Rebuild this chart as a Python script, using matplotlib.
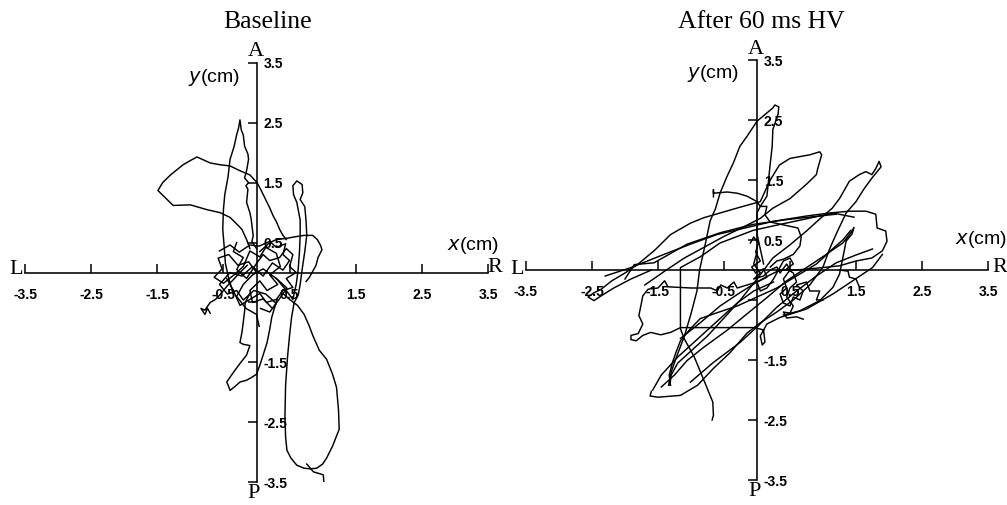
import matplotlib
matplotlib.use("Agg")
import matplotlib.pyplot as plt
import numpy as np

W, H = 1007, 505

# ---------------- data (cm) ----------------
tick_vals = [-3.5, -2.5, -1.5, -0.5, 0.5, 1.5, 2.5, 3.5]
x_tick_labels = ['-3.5', '-2.5', '-1.5', '-0.5', '0.5', '1.5', '2.5', '3.5']
y_tick_labels = ['-3.5', '-2.5', '-1.5', '', '0.5', '1.5', '2.5', '3.5']
titles = ['Baseline', 'After 60 ms HV']

# Baseline trajectories (x, y) in cm
base_loop_upper = [(0.45,0.55),(0.4,0.62),(0.35,0.72),(0.3,0.85),(0.25,0.95),(0.2,1.08),(0.16,1.17),(0.08,1.35),
                   (0.01,1.5),(-0.1,1.63),(-0.25,1.7),(-0.4,1.78),(-0.55,1.8),(-0.7,1.83),(-0.9,1.93),(-1.0,1.87),
                   (-1.11,1.8),(-1.3,1.63),(-1.42,1.5),(-1.49,1.37),(-1.38,1.25),(-1.26,1.12),(-1.0,1.13),(-0.75,1.05),
                   (-0.55,1.0),(-0.4,0.92),(-0.29,0.8),(-0.22,0.72),(-0.15,0.55),(-0.1,0.4)]
base_narrow = [(-0.35,-0.35),(-0.42,-0.1),(-0.47,0.15),(-0.49,0.45),(-0.51,0.72),(-0.5,1.05),(-0.48,1.3),(-0.43,1.6),
               (-0.4,1.89),(-0.34,2.1),(-0.3,2.3),(-0.27,2.42),(-0.25,2.55),(-0.23,2.38),(-0.2,2.3),(-0.18,2.11),
               (-0.13,1.98),(-0.12,1.89),(-0.15,1.7),(-0.18,1.58),(-0.12,1.5),(-0.16,1.45),(-0.13,1.39),(-0.15,1.17),
               (-0.1,1.0),(-0.08,0.89),(-0.05,0.61),(-0.07,0.52),(0.0,0.4)]
base_thin_bottom = [(0.3,-0.1),(0.45,-0.3),(0.55,-0.45),(0.6,-0.2),(0.63,0.05),(0.65,0.35),(0.66,0.62),(0.66,0.88),
                    (0.63,1.05),(0.61,1.17),(0.56,1.3),(0.55,1.45),(0.61,1.53),(0.69,1.47),(0.7,1.33),(0.66,1.22),
                    (0.73,1.1),(0.75,0.85),(0.76,0.62),(0.73,0.35),(0.69,0.05),(0.66,-0.2),(0.63,-0.38),(0.57,-0.5),
                    (0.53,-0.75),(0.5,-1.05),(0.47,-1.4),(0.44,-1.88),(0.43,-2.4),(0.44,-2.75),(0.46,-2.97),(0.52,-3.1),
                    (0.61,-3.22),(0.72,-3.27),(0.81,-3.28),(0.91,-3.27),(1.0,-3.2),(1.06,-3.1),(1.15,-2.9),(1.25,-2.62),
                    (1.24,-2.3),(1.21,-1.92),(1.15,-1.7),(1.06,-1.45),(0.95,-1.3),(0.85,-1.05),(0.8,-0.9),(0.72,-0.7),
                    (0.62,-0.55),(0.5,-0.45),(0.4,-0.35)]
base_hook = [(0.76,-3.2),(0.86,-3.33),(0.95,-3.36),(1.01,-3.38),(1.02,-3.53)]
base_tongue = [(0.31,-0.45),(0.27,-0.6),(0.23,-0.75),(0.2,-0.95),(0.16,-1.17),(0.1,-1.38),(0.05,-1.55),(0.0,-1.7),
               (-0.07,-1.75),(-0.15,-1.8),(-0.25,-1.83),(-0.32,-1.9),(-0.4,-1.97),(-0.43,-1.88),(-0.45,-1.83),
               (-0.35,-1.67),(-0.25,-1.52),(-0.15,-1.38),(-0.1,-1.22),(-0.2,-1.2),(-0.25,-1.17),(-0.22,-1.0),
               (-0.2,-0.83),(-0.18,-0.65),(-0.17,-0.5),(-0.1,-0.35)]
base_hash = [(-0.14,0.12),(-0.25,0.0),(-0.35,-0.12),(-0.44,-0.22),(-0.55,-0.37),(-0.62,-0.45),(-0.7,-0.5),
             (-0.75,-0.58),(-0.78,-0.63),(-0.84,-0.6),(-0.78,-0.7),(-0.74,-0.6),(-0.7,-0.68)]
base_right_blob = [(0.05,0.35),(0.2,0.5),(0.3,0.55),(0.45,0.57),(0.6,0.6),(0.72,0.62),(0.85,0.62),(0.92,0.55),
                   (0.97,0.45),(0.99,0.38),(0.93,0.25),(0.9,0.12),(0.85,0.02),(0.8,-0.08),(0.75,-0.15)]
base_center_a = [(0.0,0.0),(-0.12,0.18),(-0.28,0.12),(-0.42,0.3),(-0.58,0.24),(-0.52,0.06),(-0.64,-0.08),(-0.5,-0.18),
                 (-0.34,-0.04),(-0.2,0.1),(-0.1,0.36),(0.05,0.26),(0.14,0.42),(0.3,0.32),(0.36,0.1),(0.2,-0.04),
                 (0.32,-0.2),(0.16,-0.3),(0.05,-0.14),(-0.1,-0.3),(-0.06,-0.5),(0.1,-0.44),(0.24,-0.6),(0.36,-0.42),
                 (0.46,-0.26),(0.3,-0.1),(0.1,0.06),(-0.06,-0.04),(-0.2,-0.2),(-0.3,-0.4),(-0.16,-0.6),(0.0,-0.7),(0.04,-0.9)]
base_center_b = [(-0.56,0.36),(-0.4,0.46),(-0.26,0.34),(-0.1,0.46),(0.04,0.44),(0.2,0.52),(0.3,0.42),(0.44,0.48),
                 (0.4,0.3),(0.5,0.2),(0.4,0.04),(0.24,0.16),(0.1,-0.06),(-0.06,0.1),(-0.22,-0.06),(-0.4,0.0),
                 (-0.56,-0.2),(-0.44,-0.36),(-0.3,-0.3),(-0.2,-0.46),(-0.04,-0.3),(0.14,-0.36),(0.3,-0.52),(0.2,-0.66),(0.06,-0.6)]
base_center_c = [(-0.3,0.5),(-0.35,0.35),(-0.2,0.25),(-0.3,0.05),(-0.15,-0.1),(0.0,0.15),(0.1,0.3),(0.2,0.2),
                 (0.35,0.25),(0.45,0.4),(0.55,0.3),(0.5,0.1),(0.6,0.0),(0.45,-0.1),(0.55,-0.25),(0.4,-0.3),
                 (0.3,-0.45),(0.15,-0.5),(0.05,-0.35),(-0.1,-0.45),(-0.25,-0.55),(-0.35,-0.3),(-0.45,-0.1)]

# After-HV trajectories (x, y) in cm
hv_tall = [(0.1,0.1),(0.05,0.35),(0.0,0.6),(0.0,0.95),(0.05,1.06),(0.15,1.23),(0.17,1.44),(0.2,1.77),(0.23,2.06),
           (0.24,2.34),(0.32,2.6),(0.33,2.72),(0.27,2.75),(0.24,2.7),(0.0,2.48),(-0.15,2.23),(-0.26,2.06),
           (-0.36,1.78),(-0.45,1.57),(-0.56,1.28),(-0.63,1.02),(-0.71,0.82),(-0.78,0.45),(-0.83,0.2),(-0.87,0.0),
           (-0.91,-0.35),(-1.0,-0.73),(-1.1,-1.1),(-1.22,-1.45),(-1.3,-1.7),(-1.34,-1.92)]
hv_vertical = [(-0.68,-2.5),(-0.66,-2.42),(-0.67,-2.2),(-0.8,-1.85),(-0.95,-1.45),(-1.1,-1.15),(-1.16,-0.98),
               (-1.16,-0.5),(-1.16,0.04),(-0.86,0.22),(-0.56,0.45),(-0.06,0.66),(0.35,0.76),(0.95,0.9),(1.2,0.93)]
hv_tail_loop = [(-1.6,0.0),(-1.91,-0.15),(-2.17,-0.3),(-2.36,-0.43),(-2.47,-0.51),(-2.56,-0.45),(-2.47,-0.38),
                (-2.36,-0.32),(-2.2,-0.18),(-2.0,-0.05),(-1.8,0.1),(-1.55,0.33),(-1.31,0.59),(-1.01,0.78),(-0.81,0.87),
                (-0.31,1.03),(0.05,1.14),(0.2,1.5),(0.34,1.75),(0.5,1.86),(0.8,1.92),(0.95,1.97),(0.98,1.92),
                (0.92,1.69),(0.9,1.59),(0.75,1.43),(0.5,1.19),(0.24,1.03),(0.05,0.86),(-0.2,0.72),(-0.5,0.56),
                (-0.8,0.38),(-1.1,0.2),(-1.4,-0.02),(-1.7,-0.25)]
hv_left_box = [(0.0,-0.2),(-0.3,-0.3),(-0.35,-0.2),(-0.45,-0.3),(-0.55,-0.25),(-0.6,-0.35),(-0.7,-0.3),(-1.0,-0.3),
               (-1.35,-0.28),(-1.4,-0.18),(-1.5,-0.3),(-1.65,-0.32),(-1.73,-0.43),(-1.76,-0.6),(-1.79,-0.76),
               (-1.73,-0.9),(-1.8,-1.06),(-1.91,-1.09),(-1.91,-1.16),(-1.83,-1.18),(-1.73,-1.09),(-1.61,-1.04),
               (-1.46,-1.08),(-1.31,-1.04),(-1.16,-0.96),(-0.6,-0.96),(-0.03,-0.96),(0.1,-1.0),(0.12,-1.2),
               (0.08,-1.25),(0.05,-1.1),(0.15,-0.9),(0.35,-0.79),(0.75,-0.65),(1.15,-0.4),(1.45,-0.18),
               (1.75,0.04),(1.9,0.26)]
hv_far_loop = [(-1.6,-2.02),(-1.62,-2.1),(-1.5,-2.12),(-1.16,-2.09),(-0.9,-1.92),(-0.66,-1.64),(-0.41,-1.38),
               (-0.15,-1.05),(0.05,-0.88),(0.3,-0.7),(0.55,-0.5),(0.8,-0.25),(1.0,0.05),(1.1,0.35),(1.2,0.6),
               (1.35,0.95),(1.5,1.14),(1.62,1.35),(1.74,1.53),(1.88,1.72),(1.85,1.81),(1.8,1.69),(1.74,1.59),
               (1.65,1.64),(1.55,1.59),(1.4,1.48),(1.25,1.19),(1.14,1.03),(0.95,0.85),(0.75,0.65),(0.5,0.42),
               (0.24,0.2),(0.0,-0.15),(-0.26,-0.51),(-0.5,-0.8),(-0.75,-1.1),(-1.0,-1.35),(-1.2,-1.55),
               (-1.3,-1.75),(-1.32,-1.92)]
hv_right_loop = [(-2.3,-0.1),(-1.91,0.04),(-1.41,0.26),(-1.01,0.43),(-0.61,0.59),(-0.26,0.68),(0.24,0.81),
                 (0.75,0.9),(1.1,0.95),(1.4,0.98),(1.65,0.98),(1.8,0.93),(1.82,0.7),(1.95,0.65),(1.97,0.48),
                 (1.9,0.32),(1.74,0.2),(1.5,0.15),(1.25,0.07),(0.9,0.03),(0.6,0.0),(0.3,0.0)]
hv_long_line = [(-2.0,-0.15),(-1.86,0.09),(-1.56,0.12),(-1.06,0.43),(-0.56,0.62),(-0.06,0.76),(0.45,0.84),
                (0.95,0.9),(1.15,0.95),(1.47,0.88)]
hv_upper_bar = [(-0.66,1.22),(-0.66,1.34),(-0.66,1.28),(-0.45,1.3),(-0.3,1.28),(-0.15,1.23),(0.0,1.14),(0.05,1.06),
                (0.15,1.06),(0.12,0.92),(0.2,0.8),(0.45,0.74),(0.62,0.7),(0.67,0.55),(0.65,0.4),(0.55,0.26),
                (0.4,0.18),(0.3,0.15),(0.2,0.05)]
hv_wiggle = [(-1.31,-1.92),(-1.33,-1.75),(-1.28,-1.54),(-1.23,-1.38),(-1.16,-1.18),(-1.01,-0.98),(-0.86,-0.81),
             (-0.6,-0.71),(-0.3,-0.6),(0.0,-0.45),(0.3,-0.3),(0.6,-0.1),(0.9,0.1),(1.1,0.3),(1.3,0.45),(1.42,0.62),
             (1.47,0.71),(1.44,0.6),(1.35,0.48),(1.3,0.2),(1.25,-0.07),(1.15,-0.29),(0.95,-0.51),(0.65,-0.68),(0.4,-0.75)]
hv_diag_a = [(-1.01,-1.87),(-0.66,-1.54),(-0.26,-1.21),(0.0,-0.95),(0.3,-0.62),(0.6,-0.35),(0.9,-0.1),(1.2,0.12),
             (1.5,0.25),(1.75,0.35)]
hv_diag_b = [(-1.16,-1.14),(-0.86,-0.88),(-0.56,-0.6),(-0.26,-0.38),(0.0,-0.2),(0.2,-0.08),(0.35,0.0)]
hv_diag_c = [(-1.45,-1.95),(-1.25,-1.75),(-1.06,-1.51),(-0.81,-1.29),(-0.46,-1.01),(-0.15,-0.73),(0.15,-0.46),
             (0.45,-0.18),(0.75,0.04),(1.05,0.26),(1.3,0.5),(1.42,0.66)]
hv_diag_d = [(-1.58,-2.0),(-1.45,-1.75),(-1.2,-1.45),(-0.9,-1.15),(-0.6,-0.85),(-0.3,-0.55),(-0.05,-0.35),(0.25,-0.2)]
hv_tick_bit = [(1.25,0.0),(1.38,-0.02),(1.4,-0.12),(1.5,-0.15),(1.55,-0.28)]
hv_center = [(0.0,0.3),(-0.05,0.1),(0.05,-0.05),(-0.05,-0.15),(0.1,-0.1),(0.2,0.0),(0.3,0.05),(0.35,-0.05),
             (0.45,0.1),(0.5,0.0),(0.4,-0.15),(0.45,-0.3),(0.35,-0.4),(0.4,-0.55),(0.5,-0.6),(0.55,-0.45),
             (0.65,-0.5),(0.7,-0.35),(0.6,-0.25),(0.75,-0.2),(0.8,-0.35),(0.95,-0.35),(0.9,-0.5),(1.0,-0.5)]
hv_center2 = [(-0.1,0.45),(-0.05,0.55),(0.02,0.45),(-0.02,0.3),(0.05,0.15),(-0.08,0.05),(-0.02,-0.05),(0.1,0.02),
              (0.15,-0.12),(0.0,-0.2),(0.05,-0.35),(0.15,-0.3),(0.25,-0.15),(0.35,0.05),(0.4,0.15),(0.5,0.2),
              (0.55,0.1),(0.45,0.02),(0.55,-0.05),(0.6,-0.2),(0.5,-0.3),(0.45,-0.45),(0.55,-0.6),(0.5,-0.72),
              (0.4,-0.7),(0.45,-0.8),(0.6,-0.78),(0.7,-0.82)]

baseline_traces = [base_loop_upper, base_narrow, base_thin_bottom, base_hook, base_tongue, base_hash,
                   base_right_blob, base_center_a, base_center_b, base_center_c]
hv_traces = [hv_tall, hv_vertical, hv_tail_loop, hv_left_box, hv_far_loop, hv_right_loop, hv_long_line,
             hv_upper_bar, hv_wiggle, hv_diag_a, hv_diag_b, hv_diag_c, hv_diag_d, hv_tick_bit, hv_center, hv_center2]

# ---------------- drawing ----------------
SERIF = ['Liberation Serif', 'DejaVu Serif']
SANS = ['Liberation Sans', 'DejaVu Sans']

fig = plt.figure(figsize=(W / 100, H / 100), dpi=100)


def fpos(x, y):
    return x / W, 1 - y / H


def make_panel(box, traces, title, title_xy, letters, ylab_xy, xlab_xy):
    l, r, t, b = box
    ax = fig.add_axes([l / W, 1 - b / H, (r - l) / W, (b - t) / H])
    ax.set_xlim(-3.5, 3.5)
    ax.set_ylim(-3.5, 3.5)
    ax.patch.set_alpha(0)
    for s in ['left', 'top']:
        ax.spines[s].set_visible(False)
    ax.spines['right'].set_position(('data', 0))
    ax.spines['bottom'].set_position(('data', 0))
    for s in ['right', 'bottom']:
        ax.spines[s].set_linewidth(1.15)
    ax.yaxis.tick_right()
    ax.xaxis.tick_bottom()
    ax.set_xticks(tick_vals)
    ax.set_xticklabels(x_tick_labels, fontfamily=SANS, fontweight='bold')
    ax.set_yticks(tick_vals)
    ax.set_yticklabels(y_tick_labels, fontfamily=SANS, fontweight='bold')
    ax.tick_params(axis='x', direction='in', length=6.5, width=1.1, pad=11, labelsize=10)
    ax.tick_params(axis='y', direction='in', length=6.5, width=1.1, pad=5, labelsize=10)
    for tr in traces:
        arr = np.array(tr)
        ax.plot(arr[:, 0], arr[:, 1], color='black', lw=1.05)
    fig.text(*fpos(*title_xy), title, family=SERIF, fontsize=18.5, ha='center', va='center')
    for ch, (x, y) in letters.items():
        fig.text(*fpos(x, y), ch, family=SERIF, fontsize=16, ha='center', va='center')
    fig.text(*fpos(*ylab_xy), r'$y$(cm)', family=SANS, fontsize=14, ha='center', va='center',
             math_fontfamily='dejavusans')
    fig.text(*fpos(*xlab_xy), r'$x$(cm)', family=SANS, fontsize=14, ha='center', va='center',
             math_fontfamily='dejavusans')
    return ax


make_panel((25, 488, 63, 482), baseline_traces, titles[0], (268, 22),
           {'L': (16, 270), 'R': (495, 268), 'A': (256, 51), 'P': (254, 494)},
           (214, 77), (473, 245))
make_panel((526, 988, 60, 480), hv_traces, titles[1], (761, 22),
           {'L': (517, 270), 'R': (1000, 268), 'A': (756, 49), 'P': (755, 492)},
           (713, 73), (981, 240))

fig.savefig('out.png', dpi=100)
